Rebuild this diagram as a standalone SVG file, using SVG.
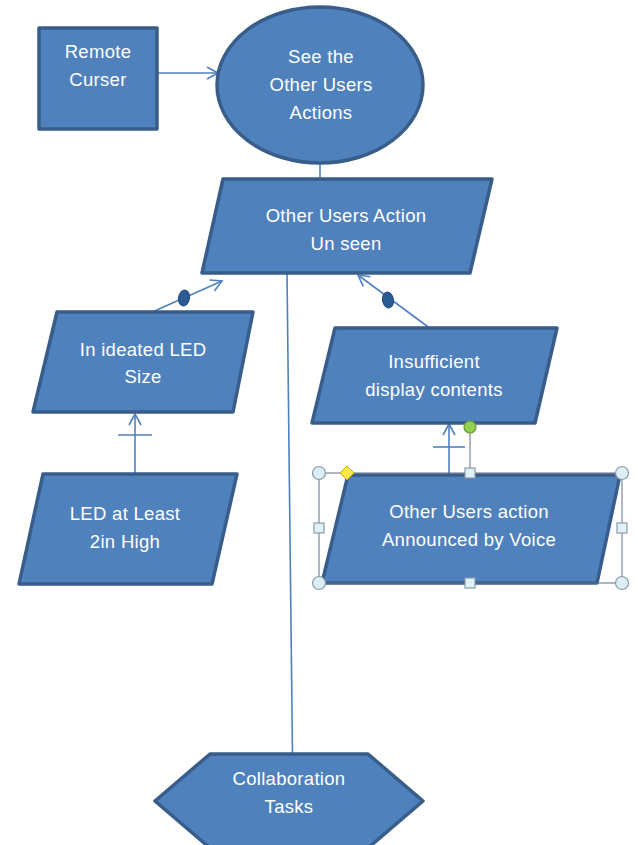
<svg xmlns="http://www.w3.org/2000/svg" width="638" height="845" viewBox="0 0 638 845">
<defs>
<style>
.shape{fill:#4f81bd;stroke:#385d8a;stroke-width:3.5;stroke-linejoin:round}
.t{font-family:"Liberation Sans",Arial,sans-serif;font-size:18.5px;fill:#ffffff;text-anchor:middle;letter-spacing:0.3px}
.c{fill:none;stroke:#4f81bd;stroke-width:1.6}
.dot{fill:#2b5b93;stroke:#1f4a7a;stroke-width:1}
.sel{fill:none;stroke:#5d6f86;stroke-width:1}
.hc{fill:#dcedf5;stroke:#8c9aa6;stroke-width:1.2}
.hs{fill:#dff2f7;stroke:#8c9aa6;stroke-width:1.2}
</style>
<marker id="arr" viewBox="-12 -7 14 14" refX="0" refY="0" markerWidth="14" markerHeight="14" markerUnits="userSpaceOnUse" orient="auto">
<path d="M -11 -6 L 0 0 L -11 6" fill="none" stroke="#4f81bd" stroke-width="1.6"/>
</marker>
</defs>
<rect width="638" height="845" fill="#ffffff"/>

<g id="connectors">
<line class="c" x1="157" y1="73" x2="218" y2="73" marker-end="url(#arr)"/>
<line class="c" x1="320" y1="163" x2="320" y2="179"/>
<line class="c" x1="287" y1="273" x2="293" y2="800"/>
<line class="c" x1="150" y1="313" x2="222" y2="281" marker-end="url(#arr)"/>
<ellipse class="dot" cx="184" cy="298" rx="5.5" ry="8" transform="rotate(10 184 298)"/>
<line class="c" x1="443" y1="338" x2="358" y2="275" marker-end="url(#arr)"/>
<ellipse class="dot" cx="388" cy="300" rx="5.5" ry="8" transform="rotate(-10 388 300)"/>
<line class="c" x1="135" y1="490" x2="135" y2="414" marker-end="url(#arr)"/>
<line class="c" x1="118" y1="435" x2="152" y2="435"/>
<line class="c" x1="449" y1="485" x2="449" y2="424" marker-end="url(#arr)"/>
<line class="c" x1="433" y1="447" x2="465" y2="447"/>
</g>

<g id="remote-curser">
<rect class="shape" x="39" y="28" width="118" height="101"/>
<text class="t" x="98" y="58">Remote</text>
<text class="t" x="98" y="86">Curser</text>
</g>

<g id="see-actions">
<ellipse class="shape" cx="320" cy="85" rx="103" ry="78"/>
<text class="t" x="321" y="63">See the</text>
<text class="t" x="321" y="91">Other Users</text>
<text class="t" x="321" y="119">Actions</text>
</g>

<g id="action-unseen">
<polygon class="shape" points="223,179 492,179 470,273 202,273"/>
<text class="t" x="346" y="222">Other Users Action</text>
<text class="t" x="346" y="250">Un seen</text>
</g>

<g id="led-size">
<polygon class="shape" points="57,312 253,312 233,412 33,412"/>
<text class="t" x="143" y="356">In ideated LED</text>
<text class="t" x="143" y="383">Size</text>
</g>

<g id="led-2in">
<polygon class="shape" points="43,474 237,474 212,584 19,584"/>
<text class="t" x="125" y="520">LED at Least</text>
<text class="t" x="125" y="548">2in High</text>
</g>

<g id="insufficient">
<polygon class="shape" points="335,328 557,328 535,423 312,423"/>
<text class="t" x="434" y="368">Insufficient</text>
<text class="t" x="434" y="396">display contents</text>
</g>

<g id="announced">
<polygon class="shape" points="348,475 620,475 597,583 322,583"/>
<text class="t" x="469" y="518">Other Users action</text>
<text class="t" x="469" y="546">Announced by Voice</text>
</g>

<g id="selection">
<rect class="sel" x="319" y="473" width="303" height="110"/>
<line class="sel" x1="470" y1="433" x2="470" y2="468"/>
<circle cx="470" cy="427" r="6" fill="#92d050" stroke="#6a9a3a" stroke-width="1.2"/>
<circle class="hc" cx="319" cy="473" r="6.5"/>
<circle class="hc" cx="622" cy="473" r="6.5"/>
<circle class="hc" cx="319" cy="583" r="6.5"/>
<circle class="hc" cx="622" cy="583" r="6.5"/>
<rect class="hs" x="465" y="468" width="10" height="10"/>
<rect class="hs" x="465" y="578" width="10" height="10"/>
<rect class="hs" x="314" y="523" width="10" height="10"/>
<rect class="hs" x="617" y="523" width="10" height="10"/>
<polygon points="347,466 354,473 347,480 340,473" fill="#ffe84a" stroke="#c9a800" stroke-width="1"/>
</g>

<g id="collaboration">
<polygon class="shape" points="210,754 368,754 423,801 368,848 210,848 155,801"/>
<text class="t" x="289" y="785">Collaboration</text>
<text class="t" x="289" y="813">Tasks</text>
</g>
</svg>
